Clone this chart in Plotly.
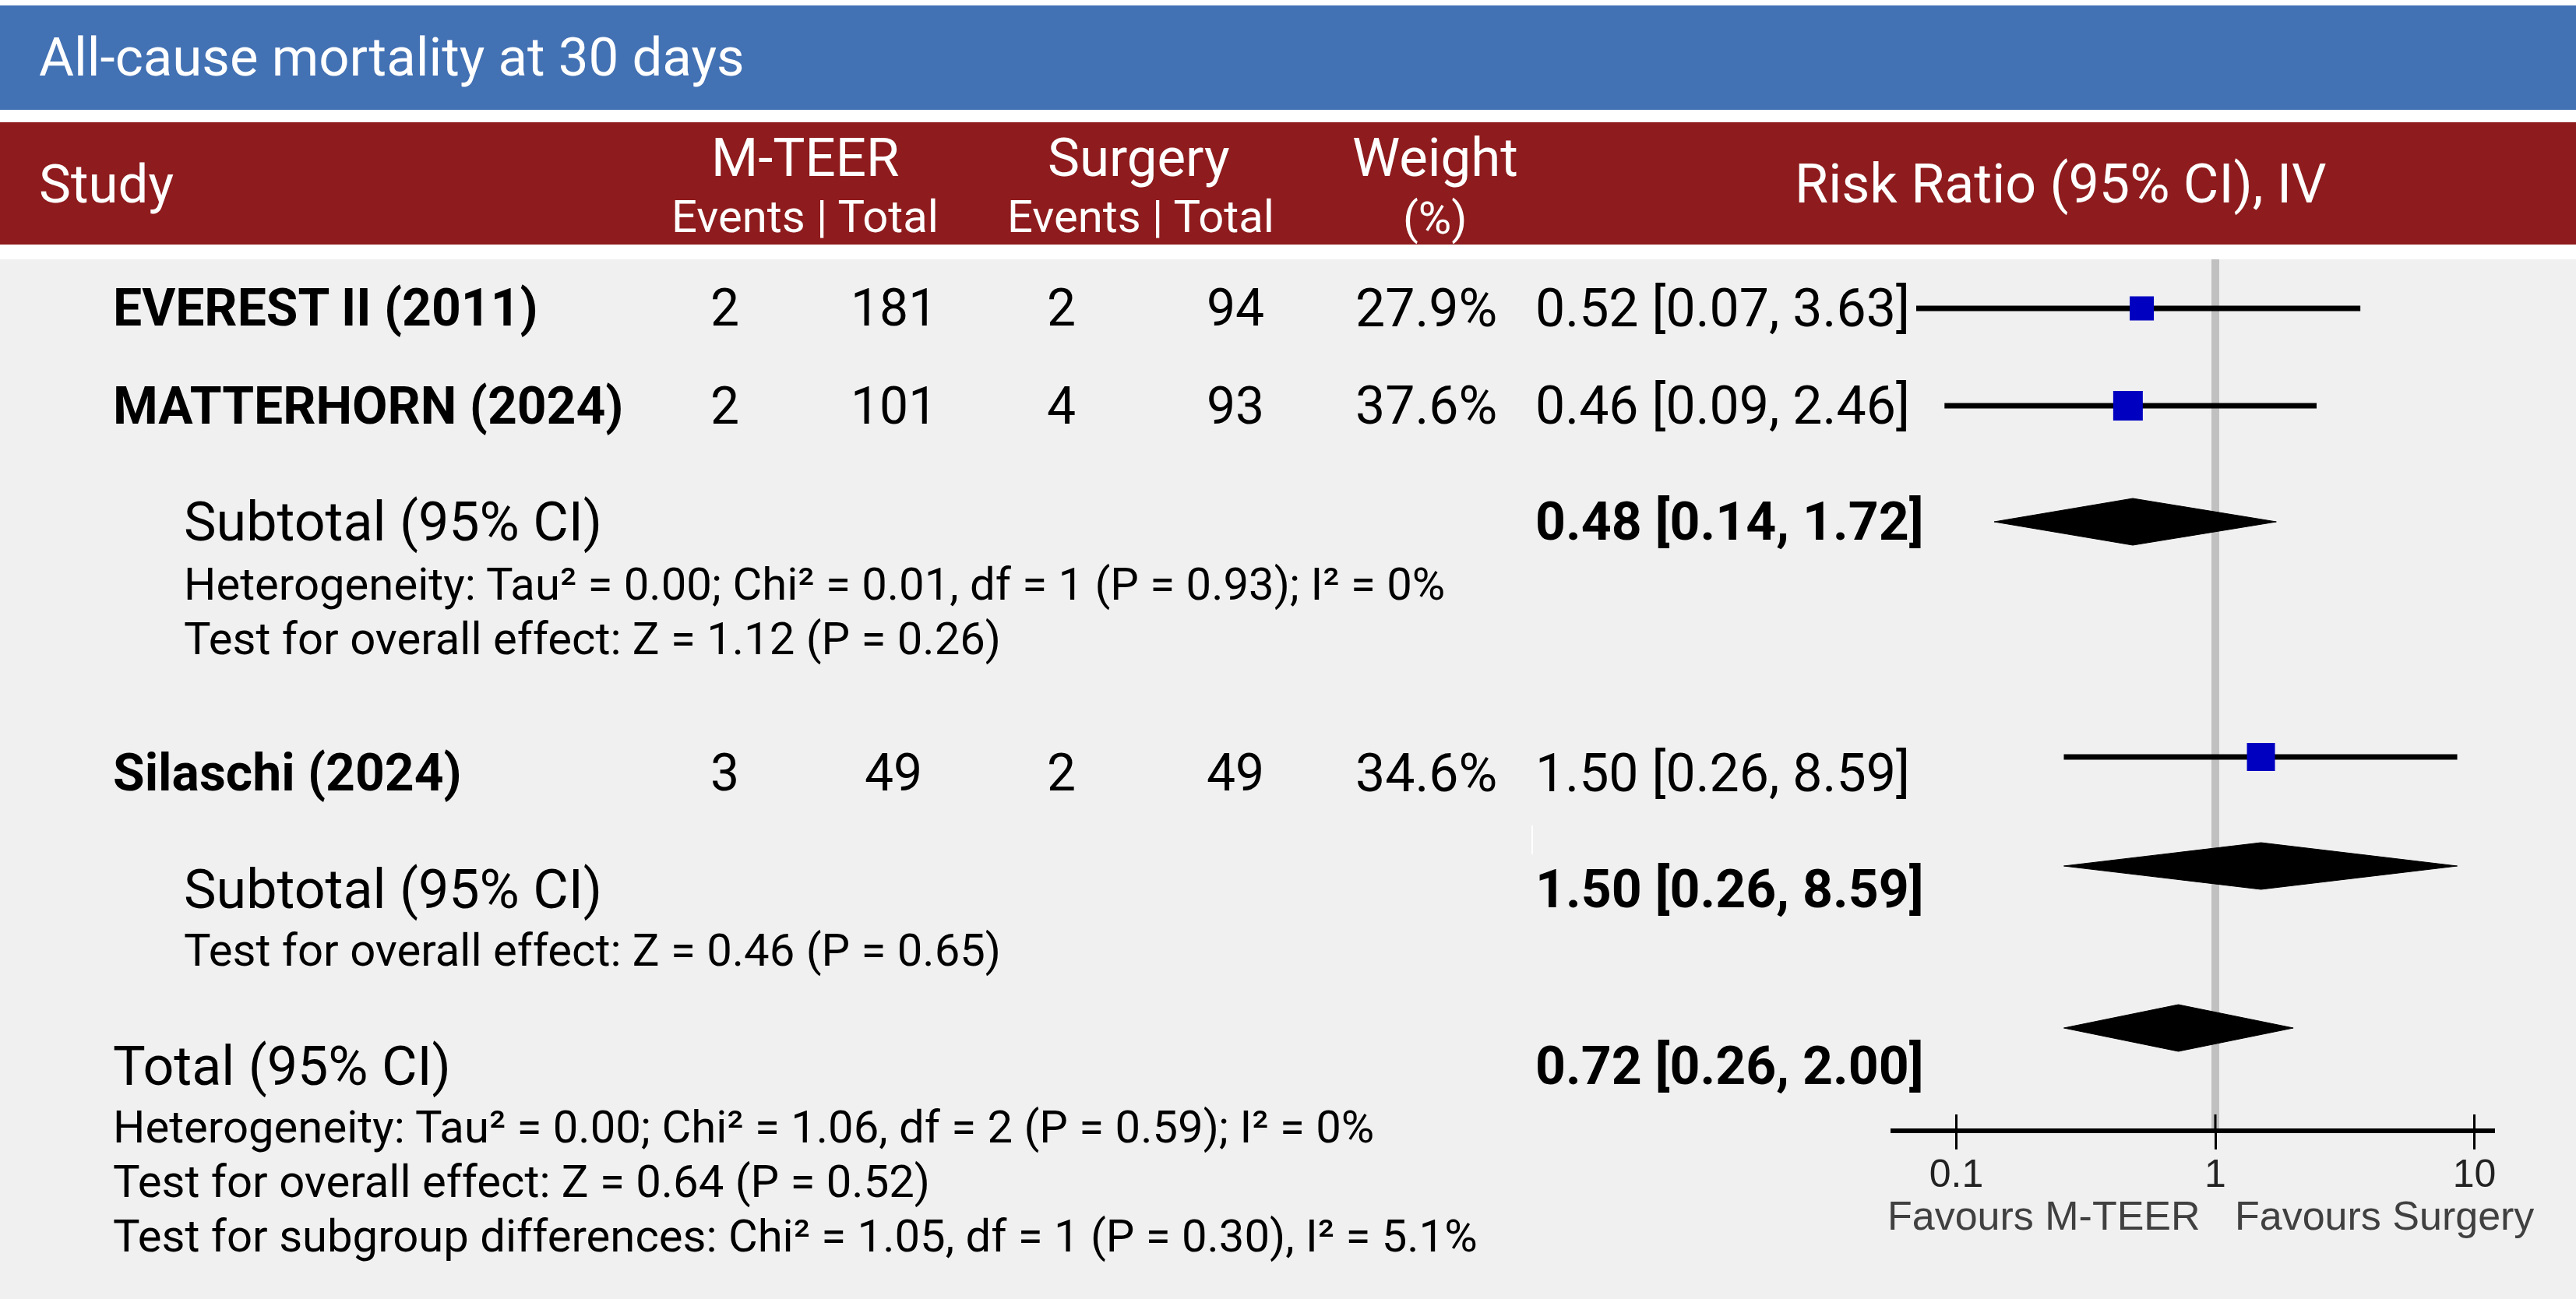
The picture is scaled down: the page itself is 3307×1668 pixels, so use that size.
import plotly.graph_objects as go

W, H = 3307, 1668

# ---------------- data ----------------
title = "All-cause mortality at 30 days"
studies = ["EVEREST II (2011)", "MATTERHORN (2024)", "Silaschi (2024)"]
mteer_events = [2, 2, 3]
mteer_total = [181, 101, 49]
surg_events = [2, 4, 2]
surg_total = [94, 93, 49]
weights = [27.9, 37.6, 34.6]
rr = [0.52, 0.46, 1.50]
rr_lo = [0.07, 0.09, 0.26]
rr_hi = [3.63, 2.46, 8.59]

pooled_labels = ["Subtotal (95% CI)", "Subtotal (95% CI)", "Total (95% CI)"]
pooled_rr = [0.48, 1.50, 0.72]
pooled_lo = [0.14, 0.26, 0.26]
pooled_hi = [1.72, 8.59, 2.00]

sub1_notes = ["Heterogeneity: Tau² = 0.00; Chi² = 0.01, df = 1 (P = 0.93); I² = 0%",
              "Test for overall effect: Z = 1.12 (P = 0.26)"]
sub2_notes = ["Test for overall effect: Z = 0.46 (P = 0.65)"]
total_notes = ["Heterogeneity: Tau² = 0.00; Chi² = 1.06, df = 2 (P = 0.59); I² = 0%",
               "Test for overall effect: Z = 0.64 (P = 0.52)",
               "Test for subgroup differences: Chi² = 1.05, df = 1 (P = 0.30), I² = 5.1%"]

tick_vals = [0.1, 1, 10]
tick_text = ["0.1", "1", "10"]
favours = ["Favours M-TEER", "Favours Surgery"]

# ---------------- layout helpers (pixel positions) ----------------
BLUE = "#4271B4"
RED = "#8E1B1D"
PANEL = "#F0F0F0"
MARK = "#0000C0"
FONT = "Roboto"

study_y = [396, 521, 972]       # CI line rows
study_text_y = [396, 521, 993]  # text rows
pooled_y = [670, 1112, 1320]     # diamond centres
pooled_text_y = [670, 1142, 1369]
marker_px = [31, 38, 36]
axis_y = 1452

def px(x):
    return x / W

def py(y):
    return 1 - y / H

annotations = []

def txt(x, y, s, size, anchor="left", color="black", bold=False, family=FONT):
    annotations.append(dict(
        x=px(x), y=py(y), xref="paper", yref="paper",
        text=("<b>%s</b>" % s) if bold else s,
        showarrow=False, xanchor=anchor, yanchor="middle",
        font=dict(family=family, size=size, color=color),
        borderpad=0,
    ))

fig = go.Figure()

# reference line at RR = 1
fig.add_trace(go.Scatter(x=[1, 1], y=[333, axis_y], mode="lines",
                         line=dict(color="#C0C0C0", width=10),
                         hoverinfo="skip", showlegend=False))

# confidence intervals
ci_x, ci_y = [], []
for lo, hi, yy in zip(rr_lo, rr_hi, study_y):
    ci_x += [lo, hi, None]
    ci_y += [yy, yy, None]
fig.add_trace(go.Scatter(x=ci_x, y=ci_y, mode="lines",
                         line=dict(color="black", width=7),
                         hoverinfo="skip", showlegend=False))

# point estimates
fig.add_trace(go.Scatter(x=rr, y=study_y, mode="markers",
                         marker=dict(symbol="square", size=marker_px, color=MARK,
                                     opacity=1, line=dict(width=0, color=MARK)),
                         opacity=1, hoverinfo="skip", showlegend=False))

# pooled diamonds
half_h = 30
for est, lo, hi, yy in zip(pooled_rr, pooled_lo, pooled_hi, pooled_y):
    fig.add_trace(go.Scatter(x=[lo, est, hi, est, lo],
                             y=[yy, yy - half_h, yy, yy + half_h, yy],
                             mode="lines", fill="toself", fillcolor="black",
                             line=dict(color="black", width=1),
                             hoverinfo="skip", showlegend=False))

# upper halves of the axis ticks (they cross the axis line)
tx, ty = [], []
for v in tick_vals:
    tx += [v, v, None]
    ty += [axis_y - 21, axis_y, None]
fig.add_trace(go.Scatter(x=tx, y=ty, mode="lines",
                         line=dict(color="black", width=3),
                         hoverinfo="skip", showlegend=False))

# ---------------- texts ----------------
txt(49, 74, title, 69, color="white")

txt(49, 236, "Study", 69, color="white")
txt(1033, 202, "M-TEER", 69, anchor="center", color="white")
txt(1033, 278, "Events | Total", 58, anchor="center", color="white")
txt(1462, 202, "Surgery", 69, anchor="center", color="white")
txt(1464, 278, "Events | Total", 58, anchor="center", color="white")
txt(1842, 202, "Weight", 69, anchor="center", color="white")
txt(1842, 280, "(%)", 58, anchor="center", color="white")
txt(2645, 236, "Risk Ratio (95% CI), IV", 70, anchor="center", color="white")

for i, name in enumerate(studies):
    yy = study_text_y[i]
    txt(144, yy, name, 66, bold=True)
    txt(930, yy, str(mteer_events[i]), 66, anchor="center")
    txt(1147, yy, str(mteer_total[i]), 66, anchor="center")
    txt(1362, yy, str(surg_events[i]), 66, anchor="center")
    txt(1586, yy, str(surg_total[i]), 66, anchor="center")
    txt(1831, yy, "%.1f%%" % weights[i], 68, anchor="center")
    txt(1970, yy, "%.2f [%.2f, %.2f]" % (rr[i], rr_lo[i], rr_hi[i]), 68)

pooled_x = [235, 235, 144]
for i, lab in enumerate(pooled_labels):
    yy = pooled_text_y[i]
    txt(pooled_x[i], yy, lab, 70)
    txt(1970, yy, "%.2f [%.2f, %.2f]" % (pooled_rr[i], pooled_lo[i], pooled_hi[i]), 68, bold=True)

for s, yy in zip(sub1_notes, [750, 820]):
    txt(235, yy, s, 58)
for s, yy in zip(sub2_notes, [1220]):
    txt(235, yy, s, 58)
for s, yy in zip(total_notes, [1447, 1517, 1587]):
    txt(144, yy, s, 58)

txt(2826, 1561, favours[0], 52, anchor="right", color="#404040", family="Liberation Sans")
txt(2868, 1561, favours[1], 52, anchor="left", color="#404040", family="Liberation Sans")

# ---------------- background bands ----------------
shapes = [
    dict(type="rect", xref="paper", yref="paper", x0=0, x1=1, y0=py(141), y1=py(7),
         fillcolor=BLUE, line=dict(width=0), layer="below"),
    dict(type="rect", xref="paper", yref="paper", x0=0, x1=1, y0=py(314), y1=py(157),
         fillcolor=RED, line=dict(width=0), layer="below"),
    dict(type="rect", xref="paper", yref="paper", x0=0, x1=1, y0=0, y1=py(333),
         fillcolor=PANEL, line=dict(width=0), layer="below"),
    dict(type="line", xref="paper", yref="paper", x0=px(1967), x1=px(1967),
         y0=py(1060), y1=py(1097), line=dict(color="white", width=2), layer="below"),
]

x_left_log = (2427 - 2844) / 332.5
x_right_log = (3203 - 2844) / 332.5

fig.update_layout(
    width=W, height=H,
    margin=dict(l=0, r=0, t=0, b=0),
    paper_bgcolor="white",
    plot_bgcolor="rgba(0,0,0,0)",
    showlegend=False,
    shapes=shapes,
    annotations=annotations,
    xaxis=dict(type="log", domain=[px(2427), px(3203)],
               range=[x_left_log, x_right_log],
               anchor="free", position=py(axis_y),
               showline=True, linecolor="black", linewidth=6,
               ticks="outside", ticklen=21, tickwidth=3, tickcolor="black",
               tickvals=tick_vals, ticktext=tick_text,
               ticklabelstandoff=-12,
               tickfont=dict(family="Liberation Sans", size=50, color="#222222"),
               showgrid=False, zeroline=False, fixedrange=True),
    yaxis=dict(domain=[0, 1], range=[H, 0], visible=False, fixedrange=True),
)

fig.write_html("out.html")
